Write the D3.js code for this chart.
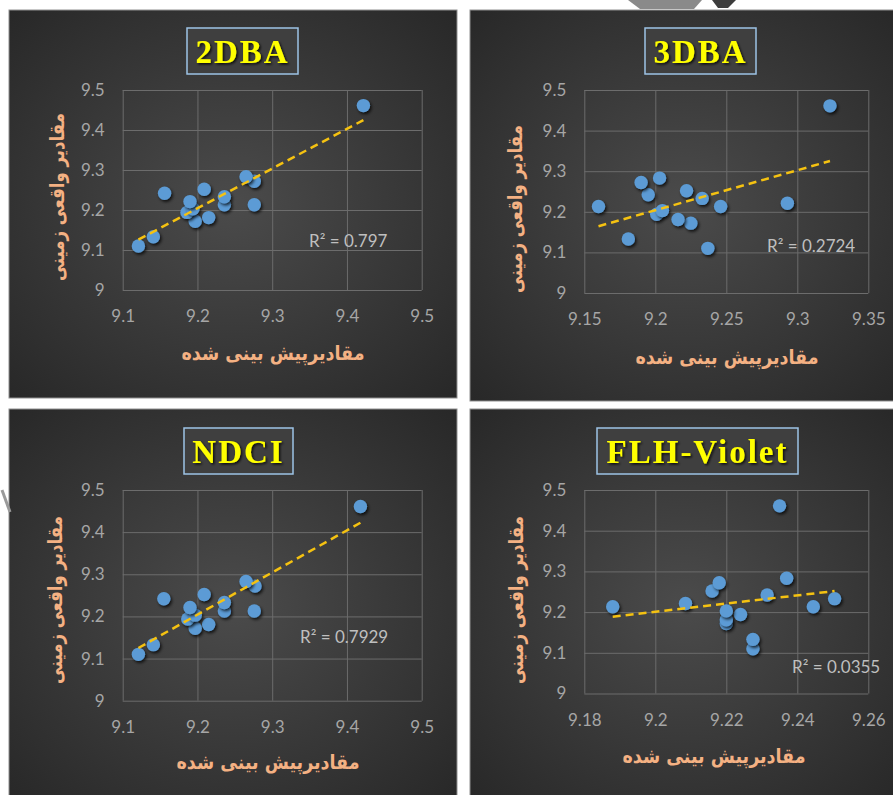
<!DOCTYPE html>
<html>
<head>
<meta charset="utf-8">
<script src="https://cdn.jsdelivr.net/npm/d3@7"></script>
<style>
  body { margin: 0; background: #fff; }
  svg { display: block; }
</style>
</head>
<body>
<script>
// observed (ground truth) values, shared by all four charts
var observed = [9.461, 9.110, 9.133, 9.172, 9.181, 9.194, 9.203, 9.213, 9.213, 9.221, 9.233, 9.242, 9.252, 9.272, 9.283];

// predicted values, same order as observed
var pred2DBA = [9.422, 9.121, 9.141, 9.197, 9.215, 9.186, 9.194, 9.236, 9.276, 9.190, 9.236, 9.156, 9.209, 9.276, 9.265];
var pred3DBA = [9.323, 9.237, 9.181, 9.225, 9.216, 9.201, 9.205, 9.160, 9.246, 9.293, 9.233, 9.195, 9.222, 9.190, 9.203];
var predNDCI = [9.418, 9.121, 9.141, 9.197, 9.215, 9.187, 9.197, 9.236, 9.276, 9.190, 9.236, 9.155, 9.209, 9.277, 9.265];
var predFLH  = [9.235, 9.2275, 9.2275, 9.220, 9.220, 9.224, 9.220, 9.188, 9.2445, 9.2085, 9.2505, 9.2315, 9.216, 9.218, 9.237];

var titles = ["2DBA", "3DBA", "NDCI", "FLH-Violet"];
var r2Labels = ["R² = 0.797", "R² = 0.2724", "R² = 0.7929", "R² = 0.0355"];

var yTicks = [9, 9.1, 9.2, 9.3, 9.4, 9.5];
var xTicksA = [9.1, 9.2, 9.3, 9.4, 9.5];
var xTicks3DBA = [9.15, 9.2, 9.25, 9.3, 9.35];
var xTicksFLH = [9.18, 9.2, 9.22, 9.24, 9.26];

var xTitle = "مقادیرپیش بینی شده";
var yTitle = "مقادیر واقعی زمینی";

var w = 893;
var h = 795;

var svg = d3.select("body")
    .append("svg")
    .attr("width", w)
    .attr("height", h);

var defs = svg.append("defs");

var grad = defs.append("radialGradient")
    .attr("id", "bg")
    .attr("cx", "50%").attr("cy", "50%").attr("r", "72%");
grad.append("stop").attr("offset", "0%").attr("stop-color", "#4b4b4b");
grad.append("stop").attr("offset", "100%").attr("stop-color", "#272727");

defs.append("filter").attr("id", "dotShadow")
    .attr("x", "-50%").attr("y", "-50%").attr("width", "200%").attr("height", "200%")
  .append("feDropShadow")
    .attr("dx", 1.5).attr("dy", 2).attr("stdDeviation", 1.6)
    .attr("flood-color", "#000").attr("flood-opacity", 0.75);

defs.append("filter").attr("id", "textShadow")
    .attr("x", "-20%").attr("y", "-20%").attr("width", "140%").attr("height", "140%")
  .append("feDropShadow")
    .attr("dx", 1.5).attr("dy", 1.5).attr("stdDeviation", 1)
    .attr("flood-color", "#000").attr("flood-opacity", 0.8);

// layout of the four panels
var panels = [
  { title: titles[0], r2: r2Labels[0], pred: pred2DBA, xTicks: xTicksA,
    box: [9, 10, 448, 388], plot: [122.7, 90, 421.7, 290], tbox: [187, 28, 111, 46],
    xt: [273, 353], yt: [57, 197], r2pos: [309, 247] },
  { title: titles[1], r2: r2Labels[1], pred: pred3DBA, xTicks: xTicks3DBA,
    box: [470, 10, 430, 391], plot: [584.3, 90, 868.3, 293], tbox: [645, 28, 111, 46],
    xt: [727, 357], yt: [515, 209], r2pos: [767, 251.5] },
  { title: titles[2], r2: r2Labels[2], pred: predNDCI, xTicks: xTicksA,
    box: [9, 409, 448, 392], plot: [122.7, 490, 421.7, 700.7], tbox: [184, 428, 109, 46],
    xt: [268, 762], yt: [55, 600], r2pos: [300, 643] },
  { title: titles[3], r2: r2Labels[3], pred: predFLH, xTicks: xTicksFLH,
    box: [470, 409, 430, 392], plot: [584.3, 490, 868.3, 693.5], tbox: [597, 428, 201, 46],
    xt: [714, 756], yt: [516, 600], r2pos: [792, 673] }
];

function drawPanel(p) {
  var g = svg.append("g");

  g.append("rect")
    .attr("x", p.box[0]).attr("y", p.box[1])
    .attr("width", p.box[2]).attr("height", p.box[3])
    .attr("fill", "url(#bg)")
    .attr("stroke", "#8f8f8f")
    .attr("stroke-width", 1);

  var xs = d3.scaleLinear()
      .domain([p.xTicks[0], p.xTicks[p.xTicks.length - 1]])
      .range([p.plot[0], p.plot[2]]);
  var ys = d3.scaleLinear()
      .domain([yTicks[0], yTicks[yTicks.length - 1]])
      .range([p.plot[3], p.plot[1]]);

  var xAxis = d3.axisBottom(xs)
      .tickValues(p.xTicks)
      .tickFormat(function(d) { return d; })
      .tickSize(-(p.plot[3] - p.plot[1]))
      .tickPadding(20);
  var yAxis = d3.axisLeft(ys)
      .tickValues(yTicks)
      .tickFormat(function(d) { return d; })
      .tickSize(-(p.plot[2] - p.plot[0]))
      .tickPadding(18);

  var gx = g.append("g")
      .attr("transform", "translate(0," + p.plot[3] + ")")
      .call(xAxis);
  var gy = g.append("g")
      .attr("transform", "translate(" + p.plot[0] + ",0)")
      .call(yAxis);

  [gx, gy].forEach(function(a) {
    a.select(".domain").remove();
    a.selectAll("line").attr("stroke", "#6c6c6c").attr("stroke-width", 1);
    a.selectAll("text")
      .attr("fill", "#a6a6a6")
      .style("font-family", "Lato, 'Open Sans', sans-serif")
      .style("font-size", "17px");
  });

  // trendline from least squares fit
  var pts = p.pred.map(function(d, i) { return [d, observed[i]]; });
  var mx = d3.mean(pts, function(d) { return d[0]; });
  var my = d3.mean(pts, function(d) { return d[1]; });
  var sxy = d3.sum(pts, function(d) { return (d[0] - mx) * (d[1] - my); });
  var sxx = d3.sum(pts, function(d) { return (d[0] - mx) * (d[0] - mx); });
  var slope = sxy / sxx;
  var icpt = my - slope * mx;
  var ext = d3.extent(pts, function(d) { return d[0]; });

  g.selectAll("circle")
    .data(pts)
    .enter()
    .append("circle")
    .attr("cx", function(d) { return xs(d[0]); })
    .attr("cy", function(d) { return ys(d[1]); })
    .attr("r", 6.7)
    .attr("fill", "#5b9bd5")
    .attr("filter", "url(#dotShadow)");

  g.append("line")
    .attr("x1", xs(ext[0])).attr("y1", ys(icpt + slope * ext[0]))
    .attr("x2", xs(ext[1])).attr("y2", ys(icpt + slope * ext[1]))
    .attr("stroke", "#f5c211")
    .attr("stroke-width", 2.5)
    .attr("stroke-dasharray", "8,5");

  g.append("text")
    .attr("x", p.r2pos[0]).attr("y", p.r2pos[1])
    .attr("fill", "#bfbfbf")
    .style("font-family", "Lato, 'Open Sans', sans-serif")
    .style("font-size", "17px")
    .text(p.r2);

  // title box
  g.append("rect")
    .attr("x", p.tbox[0]).attr("y", p.tbox[1])
    .attr("width", p.tbox[2]).attr("height", p.tbox[3])
    .attr("fill", "#3f3f3f")
    .attr("stroke", "#9dc3e6")
    .attr("stroke-width", 1.5);
  g.append("text")
    .attr("x", p.tbox[0] + p.tbox[2] / 2)
    .attr("y", p.tbox[1] + 35)
    .attr("text-anchor", "middle")
    .attr("fill", "#ffff00")
    .attr("filter", "url(#textShadow)")
    .style("font-family", "'Liberation Serif', 'Times New Roman', serif")
    .style("font-weight", "bold")
    .style("font-size", "33px")
    .style("letter-spacing", "2px")
    .text(p.title);

  // axis titles: DejaVu is wider than the original font, so squeeze to its width
  g.append("text")
    .attr("x", p.xt[0]).attr("y", p.xt[1])
    .attr("text-anchor", "middle")
    .attr("dominant-baseline", "central")
    .attr("textLength", 183)
    .attr("lengthAdjust", "spacingAndGlyphs")
    .attr("fill", "#f4b183")
    .style("font-family", "'DejaVu Sans', sans-serif")
    .style("font-weight", "bold")
    .style("font-size", "20px")
    .text(xTitle);

  g.append("text")
    .attr("transform", "translate(" + p.yt[0] + "," + p.yt[1] + ") rotate(-90)")
    .attr("text-anchor", "middle")
    .attr("dominant-baseline", "central")
    .attr("textLength", 168)
    .attr("lengthAdjust", "spacingAndGlyphs")
    .attr("fill", "#f4b183")
    .style("font-family", "'DejaVu Sans', sans-serif")
    .style("font-weight", "bold")
    .style("font-size", "20px")
    .text(yTitle);
}

panels.forEach(drawPanel);

// bits of a watermark visible at the edges of the picture
svg.append("path")
  .attr("d", "M628,0 L702,0 L694,9 L640,9 Z")
  .attr("fill", "#8a8a8a");
svg.append("path")
  .attr("d", "M712,0 L736,0 L728,8 L718,8 Z")
  .attr("fill", "#3c3c3c");
svg.append("line")
  .attr("x1", 2).attr("y1", 490).attr("x2", 10).attr("y2", 512)
  .attr("stroke", "#9a9a9a").attr("stroke-width", 3);
</script>
</body>
</html>
